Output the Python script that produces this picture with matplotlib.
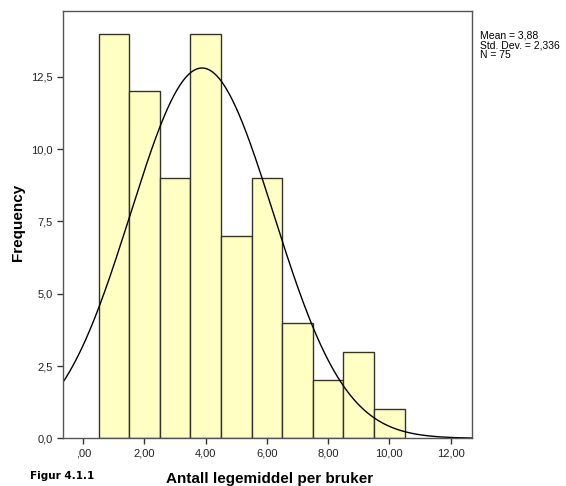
import matplotlib
matplotlib.use("Agg")
import matplotlib.pyplot as plt
import numpy as np

plt.rcParams['font.family'] = ['Liberation Sans', 'DejaVu Sans']

# histogram data (bin centres and counts)
centres = [1, 2, 3, 4, 5, 6, 7, 8, 9, 10]
counts = [14, 12, 9, 14, 7, 9, 4, 2, 3, 1]
mean = 3.88
sd = 2.336
n = 75
xticks = [0, 2, 4, 6, 8, 10, 12]
xticklabels = [',00', '2,00', '4,00', '6,00', '8,00', '10,00', '12,00']
yticks = [0, 2.5, 5, 7.5, 10, 12.5]
yticklabels = ['0,0', '2,5', '5,0', '7,5', '10,0', '12,5']

fig = plt.figure(figsize=(5.66, 4.86), dpi=100)
ax = fig.add_axes([0.1113, 0.0981, 0.7232, 0.8793])

ax.bar(centres, counts, width=1.0, color='#ffffc4', edgecolor='#333333', linewidth=1.0)

# normal curve scaled to counts
xs = np.linspace(-0.7, 12.8, 400)
ys = n * 1.0 * np.exp(-0.5 * ((xs - mean) / sd) ** 2) / (sd * np.sqrt(2 * np.pi))
ax.plot(xs, ys, color='black', linewidth=1.0)

ax.set_xlim(-0.66, 12.71)
ax.set_ylim(0, 14.78)
ax.set_xticks(xticks)
ax.set_xticklabels(xticklabels)
ax.set_yticks(yticks)
ax.set_yticklabels(yticklabels)
ax.tick_params(labelsize=8, length=4, width=1, color='#333333', labelcolor='#222222')
for s in ax.spines.values():
    s.set_color('#555555')
    s.set_linewidth(1.0)

fig.text(270 / 566, 1 - 479 / 486, 'Antall legemiddel per bruker', fontsize=11,
         fontweight='bold', ha='center', va='center')
fig.text(18 / 566, 1 - 222 / 486, 'Frequency', fontsize=11, fontweight='bold',
         rotation=90, ha='center', va='center')

fig.text(30 / 566, 1 - 476 / 486, 'Figur 4.1.1', fontsize=7.5, fontweight='bold',
         family='Liberation Sans Narrow', va='center')
fig.text(480 / 566, 1 - 31 / 486, 'Mean = 3,88\nStd. Dev. = 2,336\nN = 75', fontsize=7.5,
         va='top', linespacing=0.95)

fig.savefig('out.png', dpi=100)
